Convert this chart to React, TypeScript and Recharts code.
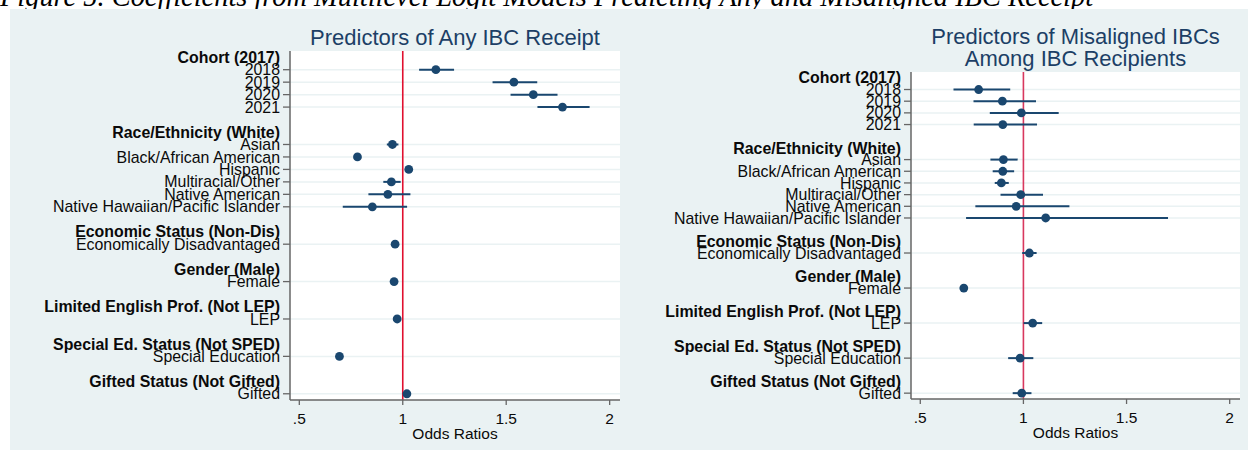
import { ScatterChart, Scatter, XAxis, YAxis, ErrorBar, ReferenceLine, CartesianGrid } from 'recharts';

// Groups and their reference categories
const groupHeaders = [
  'Cohort (2017)',
  'Race/Ethnicity (White)',
  'Economic Status (Non-Dis)',
  'Gender (Male)',
  'Limited English Prof. (Not LEP)',
  'Special Ed. Status (Not SPED)',
  'Gifted Status (Not Gifted)',
];

const groupItems = [
  ['2018', '2019', '2020', '2021'],
  ['Asian', 'Black/African American', 'Hispanic', 'Multiracial/Other', 'Native American', 'Native Hawaiian/Pacific Islander'],
  ['Economically Disadvantaged'],
  ['Female'],
  ['LEP'],
  ['Special Education'],
  ['Gifted'],
];

// Any IBC receipt: odds ratios and 95% CI
const anyOdds = [1.16, 1.537, 1.631, 1.772, 0.95, 0.781, 1.029, 0.945, 0.928, 0.853, 0.963, 0.958, 0.973, 0.694, 1.02];
const anyLow = [1.079, 1.434, 1.521, 1.651, 0.923, 0.768, 1.012, 0.906, 0.834, 0.71, 0.955, 0.95, 0.955, 0.68, 1.005];
const anyHigh = [1.248, 1.65, 1.748, 1.903, 0.979, 0.795, 1.046, 0.99, 1.037, 1.021, 0.972, 0.966, 0.991, 0.708, 1.035];

// Misaligned IBCs among recipients
const misOdds = [0.783, 0.898, 0.99, 0.9, 0.903, 0.9, 0.893, 0.987, 0.965, 1.108, 1.029, 0.711, 1.045, 0.984, 0.992];
const misLow = [0.661, 0.758, 0.837, 0.759, 0.84, 0.851, 0.861, 0.889, 0.767, 0.722, 0.994, 0.695, 1.001, 0.926, 0.948];
const misHigh = [0.936, 1.061, 1.171, 1.066, 0.972, 0.955, 0.929, 1.095, 1.223, 1.701, 1.064, 0.728, 1.091, 1.048, 1.039];

const xTicks = [0.5, 1, 1.5, 2];
const xTickLabels = ['.5', '1', '1.5', '2'];

const NAVY = '#1a476f';
const FONT = '"Liberation Sans", Arial, Helvetica, sans-serif';

// header row, then items, then a blank row per group
const rows: { slot: number; label: string; header: boolean }[] = [];
let nextSlot = 0;
groupHeaders.forEach((h, g) => {
  rows.push({ slot: nextSlot++, label: h, header: true });
  groupItems[g].forEach((it) => rows.push({ slot: nextSlot++, label: it, header: false }));
  nextSlot++;
});
const lastSlot = nextSlot - 2;
const itemRows = rows.filter((r) => !r.header);
const itemSlots = itemRows.map((r) => r.slot);

function buildData(odds: number[], low: number[], high: number[]) {
  return itemRows.map((r, i) => ({
    y: r.slot,
    or: odds[i],
    err: [odds[i] - low[i], high[i] - odds[i]],
  }));
}

const YTick = (props: any) => {
  const { x, y, payload } = props;
  const row = rows.find((r) => r.slot === payload.value);
  if (!row) return null;
  return (
    <g>
      {!row.header && <line x1={x - 7} x2={x} y1={y} y2={y} stroke="#666" strokeWidth={1.3} />}
      <text
        x={x - 10}
        y={y}
        dy={5.6}
        textAnchor="end"
        fontSize={15.9}
        fontWeight={row.header ? 700 : 400}
        fill="#0a0a0a"
        fontFamily={FONT}
      >
        {row.label}
      </text>
    </g>
  );
};

const Dot = (props: any) => <circle cx={props.cx} cy={props.cy} r={4.4} fill={NAVY} />;

interface PanelProps {
  data: ReturnType<typeof buildData>;
  width: number;
  top: number;
  right: number;
  axisWidth: number;
  xAxisHeight: number;
  labelOffset: number;
  refColor: string;
}

function Panel({ data, width, top, right, axisWidth, xAxisHeight, labelOffset, refColor }: PanelProps) {
  return (
    <ScatterChart width={width} height={453} margin={{ top, right, bottom: 0, left: 0 }}>
      <CartesianGrid vertical={false} horizontalValues={itemSlots} stroke="#eaf2f3" strokeWidth={1.5} fill="#fff" fillOpacity={1} />
      <XAxis
        type="number"
        dataKey="or"
        domain={[0.455, 2.05]}
        allowDataOverflow
        ticks={xTicks}
        tickFormatter={(v: number) => xTickLabels[xTicks.indexOf(v)]}
        tickSize={5}
        tickMargin={8}
        height={xAxisHeight}
        axisLine={{ stroke: '#666', strokeWidth: 1.5 }}
        tickLine={{ stroke: '#666', strokeWidth: 1.3 }}
        tick={{ fontSize: 15.5, fill: '#0a0a0a' }}
        label={{ value: 'Odds Ratios', position: 'insideBottom', offset: labelOffset, fontSize: 15.5, fill: '#0a0a0a' }}
      />
      <YAxis
        type="number"
        dataKey="y"
        domain={[-0.5, lastSlot + 0.5]}
        allowDataOverflow
        reversed
        ticks={rows.map((r) => r.slot)}
        interval={0}
        tick={YTick}
        tickSize={0}
        tickMargin={0}
        tickLine={false}
        width={axisWidth}
        axisLine={{ stroke: '#666', strokeWidth: 1.5 }}
      />
      <ReferenceLine x={1} stroke={refColor} strokeWidth={1.6} />
      <Scatter data={data} dataKey="or" isAnimationActive={false} shape={Dot} fill={NAVY}>
        <ErrorBar dataKey="err" direction="x" width={0} stroke={NAVY} strokeWidth={2} isAnimationActive={false} />
      </Scatter>
    </ScatterChart>
  );
}

export default function App() {
  const anyData = buildData(anyOdds, anyLow, anyHigh);
  const misData = buildData(misOdds, misLow, misHigh);
  return (
    <div style={{ position: 'relative', width: 1248, height: 453, background: '#fff', overflow: 'hidden', fontFamily: FONT }}>
      <style>{'body{margin:0}'}</style>
      <svg width={1248} height={20} style={{ position: 'absolute', left: 0, top: 0 }}>
        <text x={0} y={6} fontSize={28.4} fontStyle="italic" fontFamily='"Liberation Serif", "Times New Roman", serif' fill="#000">
          Figure 5. Coefficients from Multilevel Logit Models Predicting Any and Misaligned IBC Receipt
        </text>
      </svg>
      <div style={{ position: 'absolute', left: 10, top: 9, width: 1238, height: 441, background: '#eaf2f3' }} />
      <div style={{ position: 'absolute', left: 0, top: 0 }}>
        <Panel data={anyData} width={640} top={51} right={20} axisWidth={290} xAxisHeight={53} labelOffset={14} refColor="#e0102f" />
      </div>
      <div style={{ position: 'absolute', left: 624, top: 0 }}>
        <Panel data={misData} width={624} top={72} right={8} axisWidth={287} xAxisHeight={54} labelOffset={15} refColor="#d8385e" />
      </div>
      <svg width={1248} height={80} style={{ position: 'absolute', left: 0, top: 0, pointerEvents: 'none' }}>
        <text x={455} y={45} textAnchor="middle" fontSize={22} fill="#1c3f66" fontFamily={FONT}>
          Predictors of Any IBC Receipt
        </text>
        <text x={1075.5} y={44} textAnchor="middle" fontSize={22} fill="#1c3f66" fontFamily={FONT}>
          Predictors of Misaligned IBCs
        </text>
        <text x={1075.5} y={66} textAnchor="middle" fontSize={22} fill="#1c3f66" fontFamily={FONT}>
          Among IBC Recipients
        </text>
      </svg>
    </div>
  );
}
